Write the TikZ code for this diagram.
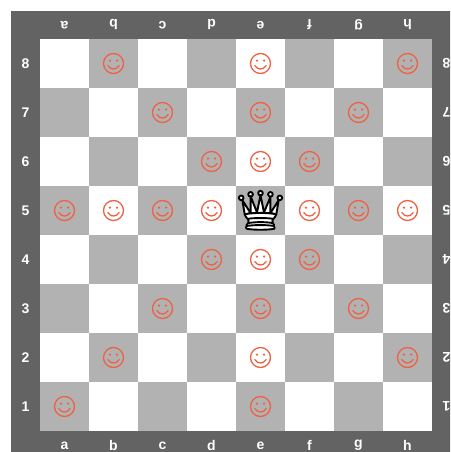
\documentclass[tikz,border=0pt]{standalone}
\usepackage{fontspec}
\setmainfont{Liberation Sans}
\definecolor{frame}{RGB}{99,99,99}
\definecolor{darksq}{RGB}{178,178,178}
\definecolor{smile}{RGB}{238,98,68}
\begin{document}
\begin{tikzpicture}[x=1pt,y=-1pt,
  coordlabel/.style={text=white,font=\fontsize{14}{16}\selectfont\bfseries,inner sep=0pt},
  flipped/.style={coordlabel,rotate=180},
  smiley/.pic={
    \draw[smile,line width=1.3pt] (0,0) circle (10);
    \fill[smile] (-3.6,-2.9) circle (1.25) (3.6,-2.9) circle (1.25);
    \draw[smile,line width=1.3pt,line cap=round] (-5.6,2.2) .. controls (-3,6.6) and (3,6.6) .. (5.6,2.2);
  },
  piece/.style={fill=white,draw=black,line join=round}]
\useasboundingbox (0,0) rectangle (450,452);
\clip (0,0) rectangle (450,452);
% frame and light squares
\fill[frame] (11,11) rectangle (461,460);
\fill[white] (40,39) rectangle (432,431);
% dark squares
\foreach \c in {0,...,7}{
  \foreach \r in {1,...,8}{
    \pgfmathtruncatemacro{\odd}{mod(\c+\r,2)}
    \ifnum\odd=1
      \fill[darksq] ({40+49*\c},{39+49*(8-\r)}) rectangle ++(49,49);
    \fi
  }
}
% file and rank labels
\foreach \f [count=\i from 0] in {a,b,c,d,e,f,g,h}{
  \node[coordlabel] (bot-\f) at ({64.5+49*\i},445.5) {\f};
  \node[flipped] (top-\f) at ({64.5+49*\i},25) {\f};
}
\foreach \r in {1,...,8}{
  \node[coordlabel] (left-\r) at (25.5,{63.5+49*(8-\r)}) {\r};
  \node[flipped] (right-\r) at (446.5,{63.5+49*(8-\r)}) {\r};
}
% squares attacked by the queen
\foreach \c/\r in {1/8,4/8,7/8, 2/7,4/7,6/7, 3/6,4/6,5/6,
                   0/5,1/5,2/5,3/5,5/5,6/5,7/5,
                   3/4,4/4,5/4, 2/3,4/3,6/3, 1/2,4/2,7/2, 0/1,4/1}{
  \pic at ({64.5+49*\c},{63.5+49*(8-\r)}) {smiley};
}
% white queen on e5
\begin{scope}[shift={(260.5-22.5*1.17,210.5-22.8*1.17)},scale=1.17,line width=1.9pt]
  \foreach \bx/\by in {6/12,14/9,22.5/8,31/9,39/12}
    \draw[piece] (\bx,\by) circle (2);
  \draw[piece,line cap=butt] (9,26) .. controls (17.5,24.5) and (30,24.5) .. (36,26)
    -- (38,14) -- (31,25) -- (31,11) -- (25.5,24.5) -- (22.5,9.5) -- (19.5,24.5)
    -- (14,10.5) -- (14,25) -- (7,14) -- cycle;
  \draw[piece] (9,26) .. controls (9,28) and (10.5,28) .. (11.5,30)
    .. controls (12.5,31.5) and (12.5,31) .. (12,33.5)
    .. controls (10.5,34.5) and (10.5,36) .. (10.5,36)
    .. controls (9,37.5) and (11,38.5) .. (11,38.5)
    .. controls (17.5,39.5) and (27.5,39.5) .. (34,38.5)
    .. controls (34,38.5) and (35.5,37.5) .. (34,36)
    .. controls (34,36) and (34.5,34.5) .. (33,33.5)
    .. controls (32.5,31) and (32.5,31.5) .. (33.5,30)
    .. controls (34.5,28) and (36,28) .. (36,26)
    .. controls (27.5,24.5) and (17.5,24.5) .. (9,26) -- cycle;
  \draw (11.5,30) .. controls (15,29) and (30,29) .. (33.5,30);
  \draw (12,33.5) .. controls (18,32.5) and (27,32.5) .. (33,33.5);
  \draw (10.5,36) .. controls (18,35) and (27,35) .. (34,36);
\end{scope}
\end{tikzpicture}
\end{document}
